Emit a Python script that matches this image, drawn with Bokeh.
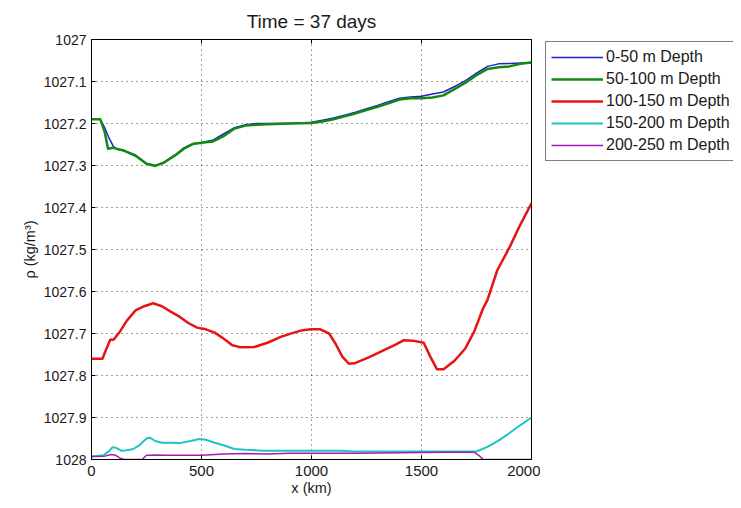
from bokeh.plotting import figure
from bokeh.layouts import row
from bokeh.models import Range1d, FixedTicker, LinearAxis, Legend, LegendItem
from bokeh.embed import file_html
from bokeh.resources import INLINE

# ---------------- data ----------------
title_text = "Time = 37 days"
x_label = "x (km)"
y_label = "ρ (kg/m³)"

x_ticks = [0, 500, 1000, 1500, 2000]
x_tick_labels = ["0", "500", "1000", "1500", "2000"]
y_ticks = [1027.0, 1027.1, 1027.2, 1027.3, 1027.4, 1027.5, 1027.6, 1027.7, 1027.8, 1027.9, 1028.0]
y_tick_labels = ["1027", "1027.1", "1027.2", "1027.3", "1027.4", "1027.5",
                 "1027.6", "1027.7", "1027.8", "1027.9", "1028"]

series_names = ["0-50 m Depth", "50-100 m Depth", "100-150 m Depth",
                "150-200 m Depth", "200-250 m Depth"]

x_d0 = [0, 40, 60, 80, 100, 120, 150, 200, 250, 290, 330, 380, 420, 460, 500, 550,
        600, 650, 700, 750, 800, 900, 1000, 1050, 1100, 1150, 1200, 1250, 1300,
        1350, 1400, 1450, 1500, 1550, 1600, 1650, 1700, 1750, 1800, 1850, 1900,
        1950, 2000]
rho_d0 = [1027.19, 1027.19, 1027.21, 1027.235, 1027.255, 1027.262, 1027.265,
          1027.275, 1027.295, 1027.300, 1027.292, 1027.275, 1027.258, 1027.248,
          1027.245, 1027.240, 1027.225, 1027.210, 1027.203, 1027.200, 1027.200,
          1027.200, 1027.197, 1027.192, 1027.187, 1027.180, 1027.173, 1027.165,
          1027.157, 1027.148, 1027.140, 1027.137, 1027.135, 1027.130, 1027.125,
          1027.112, 1027.098, 1027.080, 1027.064, 1027.058, 1027.057, 1027.056,
          1027.055]

x_d1 = [0, 40, 60, 75, 100, 150, 200, 250, 290, 330, 380, 420, 460, 500, 550, 600,
        650, 700, 750, 800, 900, 1000, 1050, 1100, 1150, 1200, 1250, 1300, 1350,
        1400, 1450, 1500, 1550, 1600, 1650, 1700, 1750, 1800, 1850, 1900, 1950, 2000]
rho_d1 = [1027.19, 1027.19, 1027.22, 1027.26, 1027.258, 1027.265, 1027.277,
          1027.296, 1027.301, 1027.293, 1027.276, 1027.260, 1027.249, 1027.246,
          1027.243, 1027.230, 1027.212, 1027.205, 1027.203, 1027.202, 1027.200,
          1027.199, 1027.195, 1027.190, 1027.183, 1027.176, 1027.168, 1027.160,
          1027.152, 1027.143, 1027.140, 1027.140, 1027.138, 1027.133, 1027.118,
          1027.103, 1027.085, 1027.070, 1027.066, 1027.064, 1027.058, 1027.055]

x_d2 = [0, 50, 65, 85, 100, 130, 160, 200, 240, 280, 320, 360, 400, 440, 480, 520,
        560, 600, 640, 680, 740, 800, 860, 920, 960, 1000, 1040, 1080, 1110, 1140,
        1170, 1200, 1260, 1320, 1380, 1420, 1460, 1510, 1540, 1570, 1600, 1650,
        1700, 1740, 1780, 1800, 1844, 1900, 1950, 2000]
rho_d2 = [1027.76, 1027.76, 1027.74, 1027.715, 1027.715, 1027.695, 1027.67,
          1027.645, 1027.635, 1027.628, 1027.635, 1027.648, 1027.66, 1027.675,
          1027.686, 1027.69, 1027.698, 1027.712, 1027.728, 1027.733, 1027.732,
          1027.722, 1027.708, 1027.698, 1027.692, 1027.69, 1027.69, 1027.70,
          1027.725, 1027.755, 1027.772, 1027.77, 1027.757, 1027.742, 1027.727,
          1027.716, 1027.717, 1027.722, 1027.755, 1027.785, 1027.785, 1027.765,
          1027.735, 1027.695, 1027.64, 1027.62, 1027.55, 1027.495, 1027.44, 1027.39]

x_d3 = [0, 55, 80, 95, 110, 135, 160, 190, 220, 250, 265, 290, 320, 360, 400, 450,
        490, 520, 560, 600, 650, 700, 780, 900, 1000, 1130, 1200, 1400, 1600, 1750,
        1800, 1850, 1900, 1950, 2000]
rho_d3 = [1027.993, 1027.99, 1027.98, 1027.971, 1027.972, 1027.979, 1027.978,
          1027.975, 1027.965, 1027.95, 1027.948, 1027.956, 1027.96, 1027.96,
          1027.961, 1027.956, 1027.951, 1027.953, 1027.96, 1027.966, 1027.975,
          1027.977, 1027.979, 1027.979, 1027.979, 1027.979, 1027.981, 1027.981,
          1027.981, 1027.981, 1027.97, 1027.955, 1027.937, 1027.918, 1027.90]

x_d4 = [0, 60, 90, 110, 130, 150, 230, 250, 300, 340, 400, 500, 600, 700, 800, 900,
        1000, 1200, 1400, 1600, 1740, 1760, 1780, 2000]
rho_d4 = [1027.993, 1027.992, 1027.988, 1027.99, 1027.997, 1028.0, 1028.0,
          1027.99, 1027.989, 1027.99, 1027.99, 1027.99, 1027.987, 1027.986,
          1027.987, 1027.985, 1027.985, 1027.985, 1027.984, 1027.983, 1027.983,
          1027.99, 1028.0, 1028.0]

# ---------------- styles ----------------
FONT = "Liberation Sans"
TXT = "#1a1a1a"
colors = ["#1f1fd0", "#128a12", "#e81414", "#1ec4c4", "#a21fb0"]
widths = [1.5, 2.5, 2.5, 2.0, 1.5]

p = figure(width=540, height=500, output_backend="svg", toolbar_location=None,
           x_range=Range1d(0, 2000), y_range=Range1d(1028, 1027),
           min_border_left=91, min_border_right=9, min_border_top=37,
           min_border_bottom=41, background_fill_color="white",
           border_fill_color="white")

p.title.text = title_text
p.title.align = "center"
p.title.text_font = FONT
p.title.text_font_size = "19px"
p.title.text_font_style = "normal"
p.title.text_color = TXT
p.title.standoff = 16

p.outline_line_color = "#000000"
p.outline_line_width = 1
p.outline_line_alpha = 1

xt = FixedTicker(ticks=x_ticks)
yt = FixedTicker(ticks=y_ticks)

for ax in p.axis:
    ax.minor_tick_line_color = None
    ax.major_tick_in = 4
    ax.major_tick_out = 0
    ax.major_tick_line_color = "#000000"
    ax.axis_line_color = "#000000"
    ax.major_label_text_font = FONT
    ax.major_label_text_color = TXT
    ax.axis_label_text_font = FONT
    ax.axis_label_text_font_size = "14.5px"
    ax.axis_label_text_font_style = "normal"
    ax.axis_label_text_color = TXT

for ax in p.xaxis:
    ax.ticker = xt
    ax.major_label_overrides = {t: s for t, s in zip(x_ticks, x_tick_labels)}
    ax.axis_label = x_label
    ax.major_label_text_font_size = "15px"
    ax.major_label_standoff = 6
    ax.axis_label_standoff = 1
for ax in p.yaxis:
    ax.ticker = yt
    ax.major_label_overrides = {t: s for t, s in zip(y_ticks, y_tick_labels)}
    ax.axis_label = y_label
    ax.major_label_text_font_size = "14px"
    ax.major_label_standoff = 5
    ax.axis_label_standoff = 3

# inward ticks on the top edge of the box (no labels)
top_ax = LinearAxis(ticker=xt, major_label_text_font_size="0px",
                    major_label_text_color=None, major_label_standoff=0,
                    major_tick_in=4, major_tick_out=0, minor_tick_line_color=None,
                    axis_line_color="#000000", major_tick_line_color="#000000")
p.add_layout(top_ax, "above")

p.xgrid.ticker = xt
p.ygrid.ticker = yt
p.grid.grid_line_color = "#000000"
p.grid.grid_line_alpha = 0.75
p.grid.grid_line_dash = "1 4"
p.grid.grid_line_width = 1

xs = [x_d0, x_d1, x_d2, x_d3, x_d4]
ys = [rho_d0, rho_d1, rho_d2, rho_d3, rho_d4]
for xv, yv, c, w in zip(xs, ys, colors, widths):
    p.line(xv, yv, line_color=c, line_width=w, line_join="round")

# ---------------- legend panel (outside the axes, to the right) ----------------
q = figure(width=193, height=500, output_backend="svg", toolbar_location=None,
           x_range=Range1d(0, 2000), y_range=Range1d(1028, 1027),
           x_axis_location=None, y_axis_location=None, min_border=0,
           outline_line_color=None, background_fill_color="white",
           border_fill_color="white")
q.xgrid.visible = False
q.ygrid.visible = False
items = []
for name, xv, yv, c, w in zip(series_names, xs, ys, colors, widths):
    r = q.line(xv, yv, line_color=c, line_width=w, visible=False)
    items.append(LegendItem(label=name, renderers=[r]))

legend = Legend(items=items, location=(5, 298), orientation="vertical",
                glyph_width=52, glyph_height=20, label_height=20, label_width=110,
                spacing=2, padding=5, margin=0, label_standoff=3,
                label_text_font=FONT, label_text_font_size="16px",
                label_text_color=TXT, border_line_color="#000000",
                border_line_width=1, background_fill_color="white",
                background_fill_alpha=1, inactive_fill_alpha=0)
q.add_layout(legend)

layout = row(p, q)
open("out.html", "w").write(file_html(layout, INLINE))
